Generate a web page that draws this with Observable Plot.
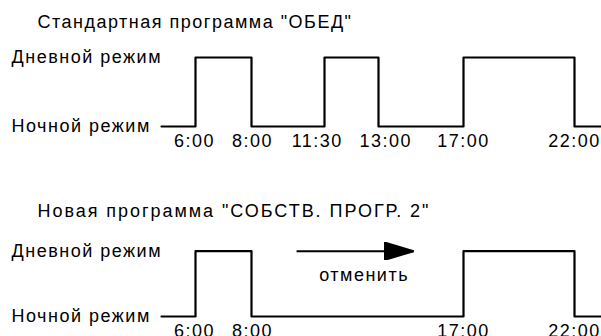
<!DOCTYPE html>
<html><head><meta charset="utf-8">
<script src="https://cdn.jsdelivr.net/npm/d3@7"></script>
<script src="https://cdn.jsdelivr.net/npm/@observablehq/plot@0.6"></script>
<style>
body{margin:0;background:#fff;}
#chart{position:relative;width:601px;height:336px;overflow:hidden;background:#fff;}
#chart svg{position:absolute;left:0;}
#chart .widetitle text{letter-spacing:1.95px;}
</style></head><body><div id="chart"></div>
<script>
// modes: 0 = night, 1 = day
const modeLabels = ["Ночной режим", "Дневной режим"];

const stdTitle = 'Стандартная программа "ОБЕД"';
const stdTimes = [0, 6, 8, 11.5, 13, 17, 22, 24];
const stdModes = [0, 1, 0, 1, 0, 1, 0, 0];
const stdTickTimes = [6, 8, 11.5, 13, 17, 22];
const stdTickLabels = ["6:00", "8:00", "11:30", "13:00", "17:00", "22:00"];

const newTitle = 'Новая программа "СОБСТВ. ПРОГР. 2"';
const newTimes = [0, 6, 8, 17, 22, 24];
const newModes = [0, 1, 0, 1, 0, 0];
const newTickTimes = [6, 8, 17, 22];
const newTickLabels = ["6:00", "8:00", "17:00", "22:00"];

const cancelFrom = [10.16];
const cancelTo = [14.65];
const cancelLabelTime = [12.6];
const cancelText = ["отменить"];

// schematic (non-uniform) time axis: hours -> horizontal position
const schematic = d3.scaleLinear()
  .domain([0, 6, 8, 11.5, 13, 17, 22, 24])
  .range([161, 195, 251, 324, 378, 463, 574, 610]);
const xScale = {transform: t => schematic(t), domain: [0, 601], range: [0, 601], axis: null};
const FONT = "Arial, 'Liberation Sans', sans-serif";
const FS = 18;

// push apart neighbouring tick labels that would collide (layout only)
function repel(times, labels, minGap = 16) {
  const pos = times.map(t => schematic(t));
  const half = labels.map(l => l.length * 5.25);
  for (let i = 0; i < pos.length - 1; i++) {
    const gap = (pos[i + 1] - half[i + 1]) - (pos[i] + half[i]);
    if (gap < minGap) { const s = (minGap - gap) / 2; pos[i] -= s; pos[i + 1] += s; }
  }
  return pos.map(p => schematic.invert(p));
}

function filledHead(color, context) {
  const doc = (context && context.document) || document;
  const ns = "http://www.w3.org/2000/svg";
  const m = doc.createElementNS(ns, "marker");
  m.setAttribute("viewBox", "-30 -9 30 18");
  m.setAttribute("markerUnits", "userSpaceOnUse");
  m.setAttribute("markerWidth", "30");
  m.setAttribute("markerHeight", "18");
  m.setAttribute("refX", "0");
  m.setAttribute("refY", "0");
  m.setAttribute("orient", "auto");
  const p = doc.createElementNS(ns, "path");
  p.setAttribute("d", "M-30,-9L0,0L-30,9Z");
  p.setAttribute("fill", "black");
  m.appendChild(p);
  return m;
}

function panel({title, titleClass, titleBaseline, times, modes, tickTimes, tickLabels, yRange, height, extra = []}) {
  const pts = times.map((t, i) => ({t, m: modes[i]}));
  const lbl = modeLabels.map((l, i) => ({l, v: i}));
  const labelTimes = repel(tickTimes, tickLabels);
  return Plot.plot({
    width: 601, height,
    marginLeft: 0, marginRight: 0, marginTop: 0, marginBottom: 0,
    style: {fontFamily: FONT, fontSize: FS + "px", letterSpacing: "1.5px", background: "white", overflow: "visible"},
    x: xScale,
    y: {domain: [0, 1], range: yRange, axis: null},
    marks: [
      Plot.text([title], {frameAnchor: "top-left", dx: 37, dy: titleBaseline, lineAnchor: "bottom", textAnchor: "start", fontSize: FS, fill: "black", className: titleClass}),
      Plot.text(lbl, {y: "v", text: "l", frameAnchor: "left", dx: 11, textAnchor: "start", fontSize: FS, fill: "black"}),
      Plot.line(pts, {x: "t", y: "m", curve: "step-after", stroke: "black", strokeWidth: 2.2}),
      Plot.text(labelTimes, {x: d => d, y: () => 0, text: (d, i) => tickLabels[i], dy: 15, fontSize: FS, fill: "black"}),
      ...extra
    ]
  });
}

const topPanel = panel({title: stdTitle, titleClass: "stdtitle", titleBaseline: 27, times: stdTimes, modes: stdModes,
  tickTimes: stdTickTimes, tickLabels: stdTickLabels, yRange: [126, 57], height: 170});
const bottomPanel = panel({title: newTitle, titleClass: "widetitle", titleBaseline: 46.7, times: newTimes, modes: newModes,
  tickTimes: newTickTimes, tickLabels: newTickLabels, yRange: [146, 80.7], height: 166,
  extra: [
    Plot.link(cancelFrom, {x1: d => d, x2: (d, i) => cancelTo[i], y1: () => 1, y2: () => 1, stroke: "black", strokeWidth: 2, markerEnd: filledHead}),
    Plot.text(cancelLabelTime, {x: d => d, y: () => 1, text: (d, i) => cancelText[i], dy: 29.3, lineAnchor: "bottom", fontSize: FS, fill: "black"})
  ]});
topPanel.style.top = "0px";
bottomPanel.style.top = "170px";
const chartDiv = document.getElementById("chart");
chartDiv.appendChild(topPanel);
chartDiv.appendChild(bottomPanel);
</script></body></html>
